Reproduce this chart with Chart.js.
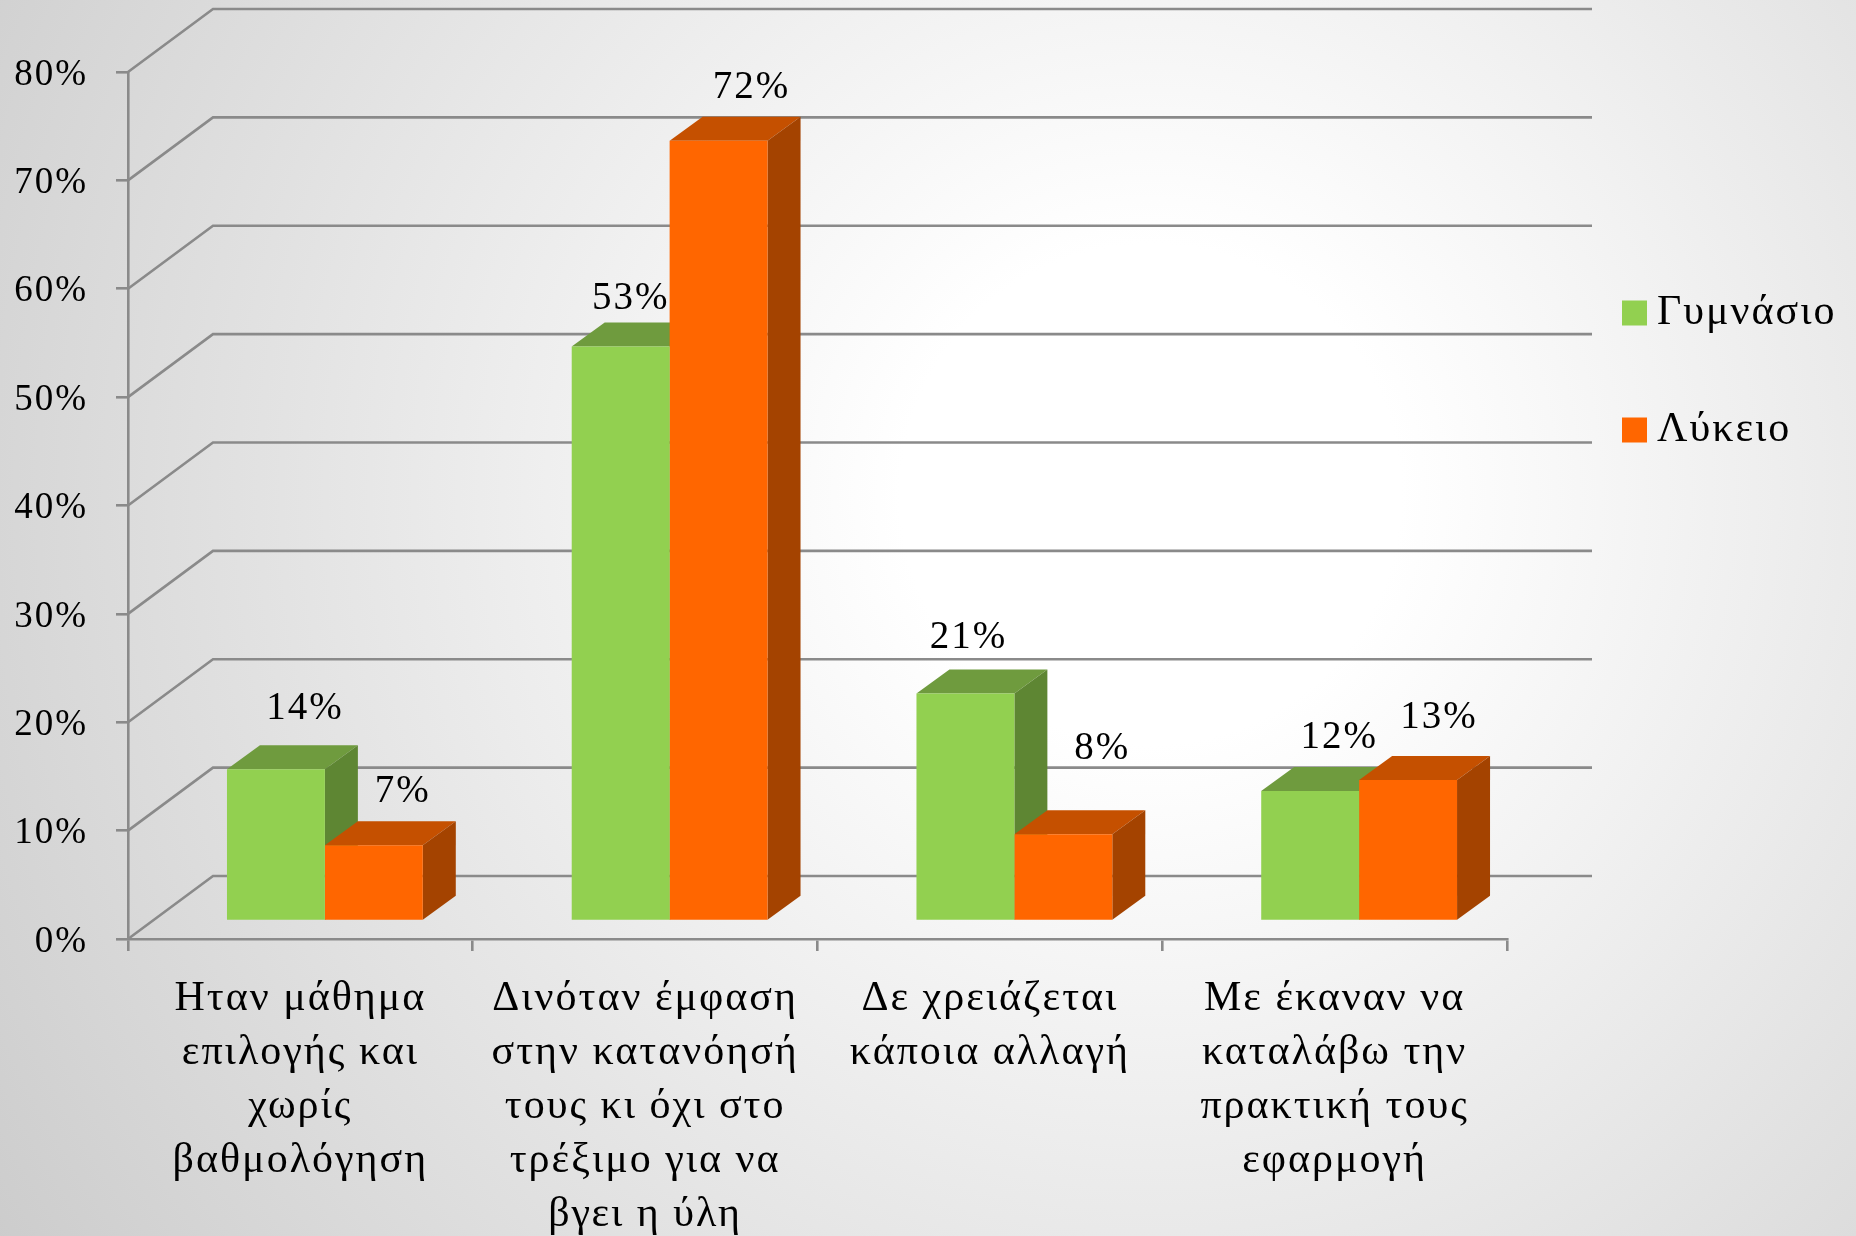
<!DOCTYPE html>
<html>
<head>
<meta charset="utf-8">
<script src="https://cdn.jsdelivr.net/npm/chart.js@4.4.1/dist/chart.umd.min.js"></script>
<style>
  html, body { margin: 0; padding: 0; }
  body {
    width: 1856px; height: 1236px; overflow: hidden;
    background: radial-gradient(circle at 62% 40%, #ffffff 0px, #ffffff 250px, #cbcbcb 1400px);
  }
  canvas { display: block; }
</style>
</head>
<body>
<canvas id="chart" width="1856" height="1236"></canvas>
<script>
// Survey answers, percentages per school level
const categories = [
  ['Ηταν μάθημα', 'επιλογής και', 'χωρίς', 'βαθμολόγηση'],
  ['Δινόταν έμφαση', 'στην κατανόησή', 'τους κι όχι στο', 'τρέξιμο για να', 'βγει η ύλη'],
  ['Δε χρειάζεται', 'κάποια αλλαγή'],
  ['Με έκαναν να', 'καταλάβω την', 'πρακτική τους', 'εφαρμογή']
];
const seriesNames = ['Γυμνάσιο', 'Λύκειο'];
const gymnasio = [14, 53, 21, 12];
const lykeio = [7, 72, 8, 13];
const yTickValues = [0, 10, 20, 30, 40, 50, 60, 70, 80];

const FONT = 'Liberation Serif';
const GRID = '#8a8a8a';

// Face shades for the 3D boxes: [front, top, side]
const shades = [
  ['#92D050', '#6F9B3E', '#5E8633'],
  ['#FF6600', '#C55000', '#A44300']
];

// Perspective offsets: full wall depth, bar placement, bar thickness
const WALL = { dx: 85, dy: -63 };
const BAR_POS = { dx: 24.5, dy: -18 };
const BAR_DEPTH = { dx: 33, dy: -24 };

// Hand-placed value label nudges (px), per series and category
const labelNudge = [
  [[2, -1], [-17, 12], [-24, 4], [2, 7]],
  [[2, 7], [6, 7], [12, -26], [4, -2]]
];

function barBox(el) {
  const p = el.getProps(['x', 'y', 'base', 'width'], true);
  const l = p.x - p.width / 2 + BAR_POS.dx;
  const r = p.x + p.width / 2 + BAR_POS.dx;
  const t = p.y + BAR_POS.dy;
  const b = p.base + BAR_POS.dy;
  return { l, r, t, b };
}

const depthPlugin = {
  id: 'depth3d',
  beforeDraw(chart) {
    chart.ctx.letterSpacing = '2px';
  },
  beforeDatasetsDraw(chart) {
    const ctx = chart.ctx;
    const area = chart.chartArea;
    const ys = chart.scales.y;
    // back wall and floor grid lines
    ctx.save();
    ctx.strokeStyle = GRID;
    ctx.lineWidth = 2.6;
    yTickValues.forEach(v => {
      const y = ys.getPixelForValue(v);
      ctx.beginPath();
      ctx.moveTo(area.left, y);
      ctx.lineTo(area.left + WALL.dx, y + WALL.dy);
      ctx.lineTo(area.right + WALL.dx, y + WALL.dy);
      ctx.stroke();
    });
    // top and side faces of each box
    chart.data.datasets.forEach((ds, di) => {
      const meta = chart.getDatasetMeta(di);
      meta.data.forEach(el => {
        const { l, r, t, b } = barBox(el);
        ctx.fillStyle = shades[di][1];
        ctx.beginPath();
        ctx.moveTo(l, t);
        ctx.lineTo(l + BAR_DEPTH.dx, t + BAR_DEPTH.dy);
        ctx.lineTo(r + BAR_DEPTH.dx, t + BAR_DEPTH.dy);
        ctx.lineTo(r, t);
        ctx.closePath();
        ctx.fill();
        ctx.fillStyle = shades[di][2];
        ctx.beginPath();
        ctx.moveTo(r, t);
        ctx.lineTo(r + BAR_DEPTH.dx, t + BAR_DEPTH.dy);
        ctx.lineTo(r + BAR_DEPTH.dx, b + BAR_DEPTH.dy);
        ctx.lineTo(r, b);
        ctx.closePath();
        ctx.fill();
      });
    });
    ctx.restore();
    // front faces are drawn by Chart.js, shifted into the depth plane
    ctx.save();
    ctx.translate(BAR_POS.dx, BAR_POS.dy);
  },
  afterDatasetsDraw(chart) {
    const ctx = chart.ctx;
    ctx.restore();
    ctx.save();
    ctx.fillStyle = '#000';
    ctx.font = `39px "${FONT}"`;
    ctx.textAlign = 'center';
    ctx.textBaseline = 'middle';
    chart.data.datasets.forEach((ds, di) => {
      const meta = chart.getDatasetMeta(di);
      meta.data.forEach((el, i) => {
        const { l, r, t } = barBox(el);
        const [nx, ny] = labelNudge[di][i];
        const cx = (l + r) / 2 + 27 + nx;
        const cy = t + BAR_DEPTH.dy - 36 + ny;
        ctx.fillText(ds.data[i] + '%', cx, cy);
      });
    });
    // legend
    ctx.textAlign = 'left';
    ctx.font = `42px "${FONT}"`;
    chart.data.datasets.forEach((ds, di) => {
      const cy = 313 + di * 117;
      ctx.fillStyle = ds.backgroundColor;
      ctx.fillRect(1622, cy - 12.5, 25, 25);
      ctx.fillStyle = '#000';
      ctx.fillText(ds.label, 1657, cy);
    });
    ctx.restore();
  }
};

new Chart(document.getElementById('chart'), {
  type: 'bar',
  data: {
    labels: categories,
    datasets: [
      { label: seriesNames[0], data: gymnasio, backgroundColor: shades[0][0] },
      { label: seriesNames[1], data: lykeio, backgroundColor: shades[1][0] }
    ]
  },
  options: {
    responsive: false,
    animation: false,
    events: [],
    layout: { padding: { top: 72, right: 349, left: 0, bottom: 0 } },
    datasets: { bar: { categoryPercentage: 0.568, barPercentage: 1.0, clip: false } },
    plugins: { legend: { display: false }, tooltip: { enabled: false } },
    scales: {
      x: {
        grid: { display: true, drawOnChartArea: false, drawTicks: true, tickLength: 12, color: GRID, lineWidth: 2.6 },
        border: { display: true, color: GRID, width: 2.6 },
        ticks: {
          color: '#000', padding: 21, maxRotation: 0, autoSkip: false,
          font: { family: FONT, size: 42, lineHeight: 1.286 }
        },
        afterFit(scale) { scale.height = 297; }
      },
      y: {
        min: 0, max: 80,
        afterBuildTicks(scale) { scale.ticks = yTickValues.map(v => ({ value: v })); },
        grid: { display: true, drawOnChartArea: false, drawTicks: true, tickLength: 12, color: GRID, lineWidth: 2.6 },
        border: { display: true, color: GRID, width: 2.6 },
        ticks: {
          color: '#000', padding: 28, labelOffset: 3,
          font: { family: FONT, size: 37 },
          callback: v => v + '%'
        },
        afterFit(scale) { scale.width = 128; }
      }
    }
  },
  plugins: [depthPlugin]
});
</script>
</body>
</html>
